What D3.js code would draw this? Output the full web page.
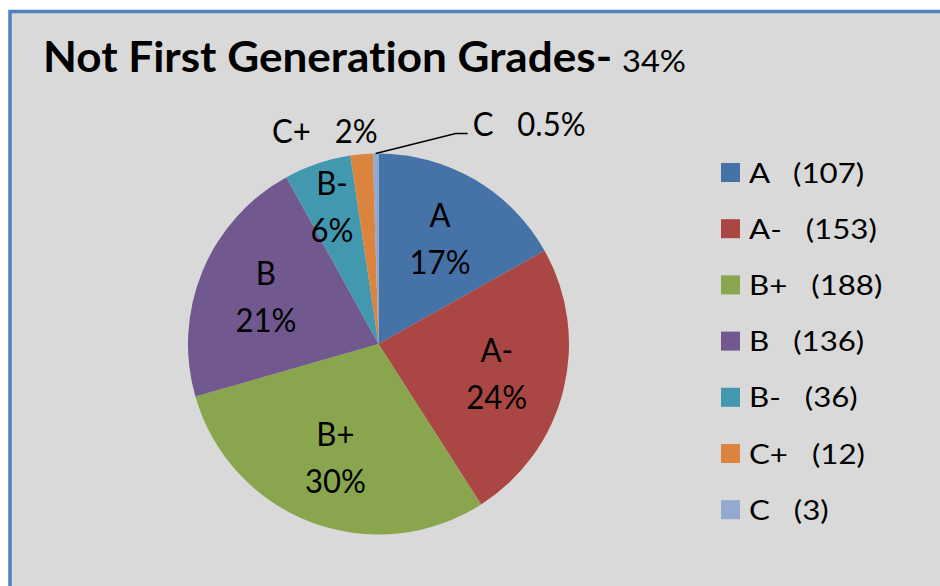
<!DOCTYPE html>
<html><head><meta charset="utf-8">
<script src="https://cdn.jsdelivr.net/npm/d3@7"></script>
<style>body{margin:0;background:#fff}text{white-space:pre;font-variant-ligatures:none}</style>
</head><body>
<svg id="c" width="940" height="586"></svg>
<script>
const categories = ["A", "A-", "B+", "B", "B-", "C+", "C"];
const counts = [107, 153, 188, 136, 36, 12, 3];
const percentLabels = ["17%", "24%", "30%", "21%", "6%", "2%", "0.5%"];
const colors = ["#4572a7", "#aa4643", "#89a54e", "#71588f", "#4198af", "#db843d", "#93a9cf"];
const titleMain = "Not First Generation Grades-";
const titleSub = "34%";

const FONT = "Lato, 'Open Sans', sans-serif";
const CAP = 0.717;
const svg = d3.select("#c");
svg.append("rect").attr("x", 10).attr("y", 11.5).attr("width", 960).attr("height", 620)
  .attr("fill", "#d9d9d9").attr("stroke", "#4f81bd").attr("stroke-width", 3.5);

function natWidth(str, weight, size) {
  const t = svg.append("text").attr("font-family", FONT).attr("font-weight", weight)
    .attr("font-size", size).text(str);
  const w = t.node().getComputedTextLength();
  t.remove();
  return w;
}
function style(capH, weight, refStr, refW) {
  const size = capH / CAP;
  return {size, weight, kx: refW / natWidth(refStr, weight, size)};
}
function put(parent, st, str, x, y, anchor) {
  return parent.append("text").attr("transform", `translate(${x},${y}) scale(${st.kx},1)`)
    .attr("font-family", FONT).attr("font-weight", st.weight).attr("font-size", st.size)
    .attr("text-anchor", anchor || "start").attr("fill", "#000").text(str);
}

// Title
const tSt = style(30, "bold", titleMain, 569);
const sSt = style(22, "normal", titleSub, 64);
put(svg, tSt, titleMain, 43, 72);
put(svg, sSt, titleSub, 622, 72);

// Pie
const cx = 378.5, cy = 344, R = 190.5;
const g = svg.append("g").attr("transform", `translate(${cx},${cy})`);
const pie = d3.pie().sort(null).value(d => d.v);
const data = categories.map((c, i) => ({c, v: counts[i], p: percentLabels[i], col: colors[i]}));
const arcs = pie(data);
const arc = d3.arc().innerRadius(0).outerRadius(R);
g.selectAll("path").data(arcs).join("path").attr("d", arc).attr("fill", d => d.data.col);

const lSt = style(23, "normal", "17%", 61);
arcs.forEach((d) => {
  const ang = d.endAngle - d.startAngle;
  const mid = (d.startAngle + d.endAngle) / 2;
  if (ang > 0.3) {
    const rr = ang > 0.6 ? R * 0.64 : R * 0.76;
    const x = rr * Math.sin(mid), y = -rr * Math.cos(mid);
    put(g, lSt, d.data.c, x, y - 12, "middle");
    put(g, lSt, d.data.p, x, y + 35, "middle");
  }
});
// outside labels for small slices
const cp = arcs[5], cc = arcs[6];
{
  const mid = (cp.startAngle + cp.endAngle) / 2;
  const r2 = R * 1.1;
  put(g, lSt, cp.data.c + "   " + cp.data.p, r2 * Math.sin(mid) - 35, -r2 * Math.cos(mid) + 8, "middle");
}
{
  const mid = (cc.startAngle + cc.endAngle) / 2;
  const px = R * Math.sin(mid), py = -R * Math.cos(mid);
  const kx = px + 80, ky = py - 20;
  g.append("path").attr("d", `M${px},${py}L${kx},${ky}H${kx + 12}`)
    .attr("fill", "none").attr("stroke", "#000").attr("stroke-width", 1.5);
  put(g, lSt, cc.data.c + "   " + cc.data.p, kx + 17, ky + 2);
}

// Legend
const legSt = style(20, "normal", "(107)", 71);
const leg = svg.append("g").attr("transform", "translate(721,173)");
data.forEach((d, i) => {
  const row = leg.append("g").attr("transform", `translate(0,${i * 56.2})`);
  row.append("rect").attr("x", 0).attr("y", -10).attr("width", 19).attr("height", 19).attr("fill", d.col);
  put(row, legSt, d.c + "   (" + d.v + ")", 28, 9.5);
});
</script>
</body></html>
